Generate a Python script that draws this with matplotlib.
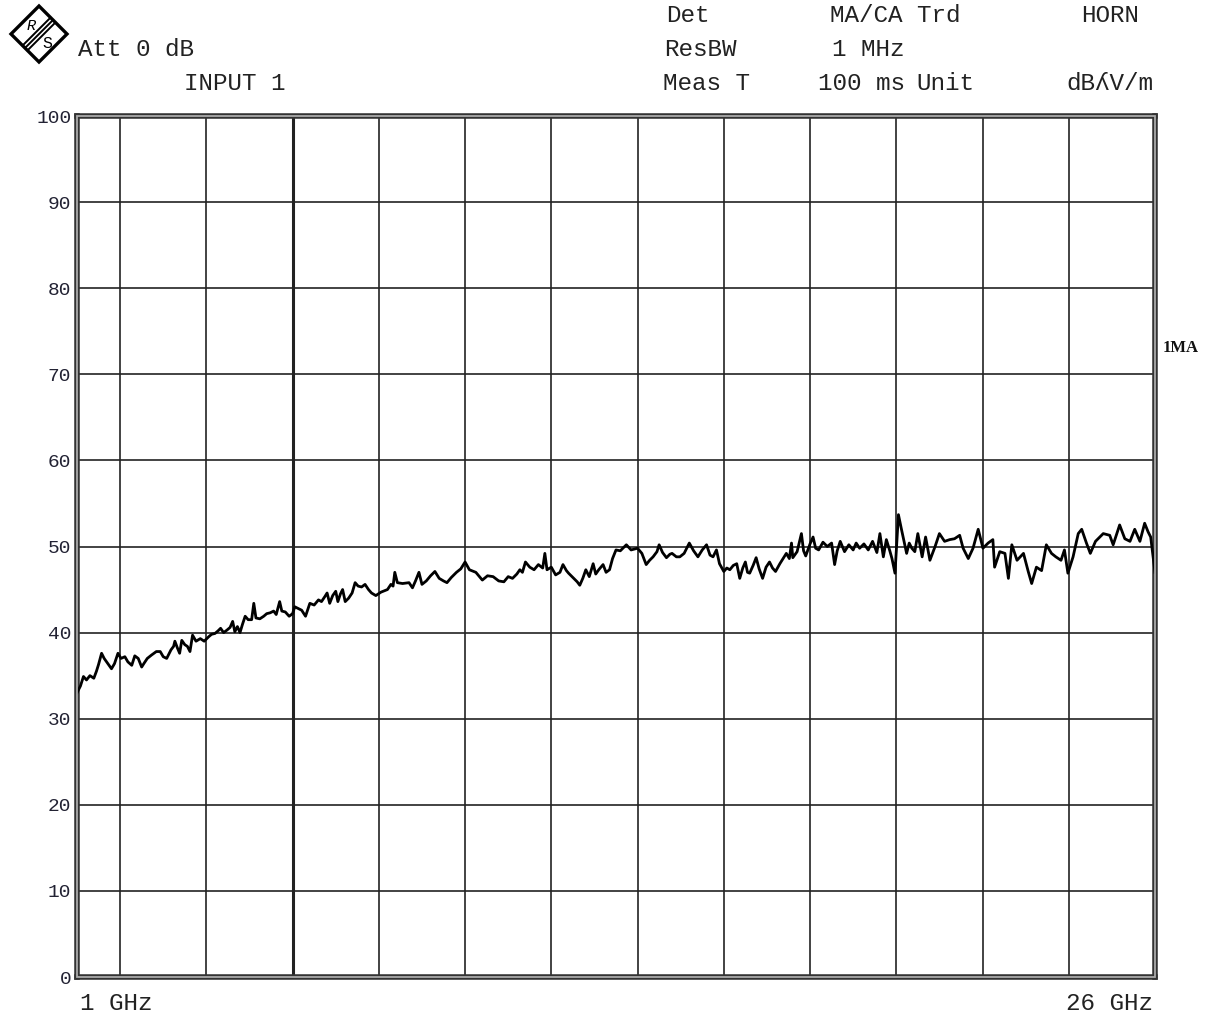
import matplotlib
matplotlib.use('Agg')
import matplotlib.pyplot as plt
from matplotlib.patches import Polygon, Rectangle

# trace: frequency in GHz, level in dBuV/m
freq_ghz = [
    1.00, 1.08, 1.15, 1.22, 1.30, 1.39, 1.45, 1.50, 1.57, 1.63, 1.70, 1.80, 1.87, 1.95,
    2.02, 2.11, 2.18, 2.27, 2.34, 2.42, 2.50, 2.55, 2.63, 2.73, 2.84, 2.93, 3.00, 3.08,
    3.18, 3.24, 3.27, 3.33, 3.38, 3.43, 3.50, 3.56, 3.62, 3.68, 3.76, 3.86, 3.95, 4.05,
    4.12, 4.20, 4.27, 4.33, 4.40, 4.48, 4.55, 4.61, 4.66, 4.72, 4.78, 4.84, 4.90, 4.97,
    5.05, 5.10, 5.15, 5.24, 5.33, 5.40, 5.48, 5.56, 5.62, 5.70, 5.75, 5.83, 5.92, 6.00,
    6.05, 6.13, 6.21, 6.30, 6.40, 6.50, 6.60, 6.67, 6.75, 6.80, 6.86, 6.93, 7.00, 7.05,
    7.11, 7.16, 7.22, 7.30, 7.38, 7.45, 7.52, 7.60, 7.68, 7.76, 7.83, 7.93, 8.05, 8.20,
    8.28, 8.33, 8.37, 8.43, 8.55, 8.70, 8.78, 8.85, 8.93, 9.00, 9.10, 9.20, 9.30, 9.40,
    9.50, 9.58, 9.68, 9.80, 9.90, 10.00, 10.10, 10.25, 10.40, 10.52, 10.65, 10.78, 10.90,
    11.00, 11.10, 11.20, 11.27, 11.33, 11.40, 11.50, 11.60, 11.70, 11.80, 11.85, 11.90,
    12.00, 12.10, 12.20, 12.27, 12.35, 12.40, 12.50, 12.60, 12.66, 12.73, 12.80, 12.88,
    12.97, 13.03, 13.10, 13.20, 13.27, 13.35, 13.42, 13.50, 13.60, 13.74, 13.85, 14.00,
    14.10, 14.20, 14.28, 14.36, 14.45, 14.50, 14.58, 14.67, 14.75, 14.80, 14.90, 14.98,
    15.08, 15.20, 15.30, 15.40, 15.50, 15.60, 15.68, 15.75, 15.83, 15.90, 16.00, 16.07,
    16.14, 16.22, 16.30, 16.37, 16.44, 16.50, 16.55, 16.60, 16.68, 16.75, 16.82, 16.90,
    16.98, 17.06, 17.13, 17.20, 17.30, 17.45, 17.52, 17.57, 17.60, 17.70, 17.80, 17.85,
    17.90, 18.00, 18.07, 18.13, 18.20, 18.30, 18.40, 18.50, 18.57, 18.63, 18.70, 18.80,
    18.90, 19.00, 19.07, 19.15, 19.25, 19.35, 19.45, 19.55, 19.62, 19.70, 19.77, 19.85,
    19.90, 19.97, 20.05, 20.12, 20.24, 20.30, 20.36, 20.43, 20.50, 20.60, 20.68, 20.78,
    20.90, 21.00, 21.12, 21.24, 21.35, 21.47, 21.55, 21.67, 21.78, 21.90, 22.01, 22.13,
    22.24, 22.28, 22.40, 22.52, 22.60, 22.68, 22.80, 22.95, 23.06, 23.14, 23.25, 23.37,
    23.48, 23.60, 23.70, 23.82, 23.90, 23.98, 24.10, 24.22, 24.30, 24.41, 24.50, 24.62,
    24.80, 24.95, 25.03, 25.18, 25.30, 25.42, 25.53, 25.65, 25.76, 25.84, 25.90, 25.95,
    26.00,
]
level_dbuv = [
    33.0, 33.8, 34.9, 34.5, 35.0, 34.7, 35.5, 36.3, 37.6, 37.0, 36.5, 35.8, 36.4, 37.6,
    37.0, 37.2, 36.6, 36.2, 37.3, 37.0, 36.0, 36.4, 37.0, 37.4, 37.8, 37.8, 37.2, 37.0,
    38.0, 38.4, 39.0, 38.2, 37.6, 39.1, 38.6, 38.4, 37.8, 39.7, 39.0, 39.3, 39.0, 39.5,
    39.8, 39.9, 40.2, 40.5, 40.0, 40.3, 40.6, 41.3, 40.1, 40.7, 40.0, 41.0, 41.9, 41.5,
    41.5, 43.4, 41.7, 41.6, 41.9, 42.2, 42.3, 42.5, 42.1, 43.6, 42.5, 42.4, 41.9, 42.2,
    43.0, 42.8, 42.6, 41.9, 43.4, 43.2, 43.8, 43.6, 44.2, 44.6, 43.4, 44.3, 44.8, 43.6,
    44.5, 45.0, 43.6, 44.0, 44.6, 45.8, 45.4, 45.3, 45.6, 45.0, 44.6, 44.3, 44.7, 45.0,
    45.6, 45.4, 47.0, 45.8, 45.7, 45.8, 45.2, 46.0, 47.0, 45.6, 46.0, 46.6, 47.1, 46.3,
    46.0, 45.8, 46.4, 47.0, 47.4, 48.2, 47.3, 47.0, 46.1, 46.6, 46.5, 46.0, 45.9,
    46.5, 46.3, 46.8, 47.3, 47.0, 48.2, 47.6, 47.3, 47.9, 47.5, 49.2, 47.3,
    47.6, 46.7, 47.0, 47.9, 47.2, 46.9, 46.4, 45.9, 45.5, 46.3, 47.3, 46.5,
    48.0, 46.8, 47.3, 47.9, 47.0, 47.3, 48.6, 49.6, 49.5, 50.2, 49.6, 49.8,
    49.2, 47.9, 48.4, 48.8, 49.4, 50.2, 49.3, 48.7, 49.1, 49.2, 48.8, 48.8,
    49.2, 50.4, 49.5, 48.8, 49.6, 50.2, 49.0, 48.8, 49.6, 48.0, 47.1, 47.5,
    47.3, 47.8, 48.0, 46.3, 47.5, 48.2, 47.0, 46.9, 47.8, 48.7, 47.4, 46.3,
    47.6, 48.2, 47.5, 47.1, 48.0, 49.2, 48.6, 50.4, 48.7, 49.4, 51.5, 49.5,
    48.9, 50.3, 51.1, 49.8, 49.6, 50.5, 50.0, 50.4, 47.9, 49.5, 50.6, 49.4,
    50.2, 49.6, 50.4, 49.8, 50.3, 49.6, 50.6, 49.3, 51.5, 48.8, 50.8, 49.5,
    48.6, 46.9, 53.7, 52.0, 49.2, 50.4, 49.8, 49.4, 51.5, 48.8, 51.1, 48.4,
    50.0, 51.5, 50.6, 50.8, 50.9, 51.3, 49.8, 48.6, 49.8, 52.0, 49.8, 50.4,
    50.8, 47.6, 49.4, 49.2, 46.3, 50.2, 48.4, 49.2, 47.1, 45.7, 47.6, 47.2,
    50.2, 49.2, 48.8, 48.4, 49.6, 46.9, 48.8, 51.5, 52.0, 50.4, 49.2, 50.6,
    51.5, 51.3, 50.2, 52.5, 50.9, 50.6, 52.0, 50.6, 52.7, 51.7, 51.1, 49.0,
    47.0,
]

f_start, f_stop = 1, 26
y_ticks = [0, 10, 20, 30, 40, 50, 60, 70, 80, 90, 100]
x_grid = [2, 4, 6, 8, 10, 12, 14, 16, 18, 20, 22, 24]

mono = ['Liberation Mono', 'DejaVu Sans Mono']
W, H = 1206, 1013
fig = plt.figure(figsize=(W / 100, H / 100), dpi=100)
ax = fig.add_axes([77 / W, 1 - 977 / H, (1155 - 77) / W, (977 - 116) / H])

ax.set_xlim(f_start, f_stop)
ax.set_ylim(0, 100)

for g in x_grid:
    ax.axvline(g, color='#222222', lw=2.2 if g == 6 else 1.2, zorder=1)
for t in y_ticks[1:-1]:
    ax.axhline(t, color='#222222', lw=1.2, zorder=1)

ax.plot(freq_ghz, level_dbuv, color='black', lw=2.0, zorder=3)

ax.set_xticks([])
ax.set_yticks(y_ticks)
ax.set_yticklabels([str(t) for t in y_ticks], family=mono, fontsize=14, color='#222233')
ax.tick_params(axis='y', length=0, pad=4)
for s in ax.spines.values():
    s.set_linewidth(4)
    s.set_color('#333333')
ax.add_patch(Rectangle((0, 0), 1, 1, transform=ax.transAxes, fill=False,
                       ec='#aaaaaa', lw=1.3, clip_on=False, zorder=5))

# overlay in pixel coords for the header, labels and logo
ov = fig.add_axes([0, 0, 1, 1], zorder=10)
ov.set_xlim(0, W)
ov.set_ylim(H, 0)
ov.axis('off')
ov.patch.set_alpha(0)

def txt(x, y, s, ha='left', size=17.5, **kw):
    ov.text(x, y, s, ha=ha, va='center', family=mono, fontsize=size, color='#222222', **kw)

txt(78, 49, 'Att 0 dB')
txt(184, 83, 'INPUT 1')
txt(666, 15, 'Det')
txt(830, 15, 'MA/CA Trd')
txt(1081, 15, 'HORN')
txt(664, 49, 'ResBW')
txt(832, 49, '1 MHz')
txt(663, 83, 'Meas T')
txt(818, 83, '100 ms')
txt(916, 83, 'Unit')
txt(1066, 83, 'dB\u028eV/m')
txt(80, 1003, '1 GHz')
txt(1153, 1003, '26 GHz', ha='right')
ov.text(1163, 348, '1MA', ha='left', va='center', family=['Liberation Serif', 'DejaVu Serif'],
        fontsize=12, weight='bold', color='#111111')

# R&S diamond logo
cx, cy, r = 39, 34, 28
ov.add_patch(Polygon([(cx, cy - r), (cx + r, cy), (cx, cy + r), (cx - r, cy)],
                     closed=True, fill=False, ec='black', lw=2.4))
for d in (-3.5, 0, 3.5):
    ov.plot([cx + 14 + d * 0.7, cx - 14 + d * 0.7],
            [cy - 14 + d * 0.7, cy + 14 + d * 0.7], color='black', lw=1.4)
ov.text(cx - 8, cy - 8, 'R', ha='center', va='center', family=mono, fontsize=11, style='italic')
ov.text(cx + 8, cy + 9, 'S', ha='center', va='center', family=mono, fontsize=12)

fig.savefig('out.png', dpi=100)
